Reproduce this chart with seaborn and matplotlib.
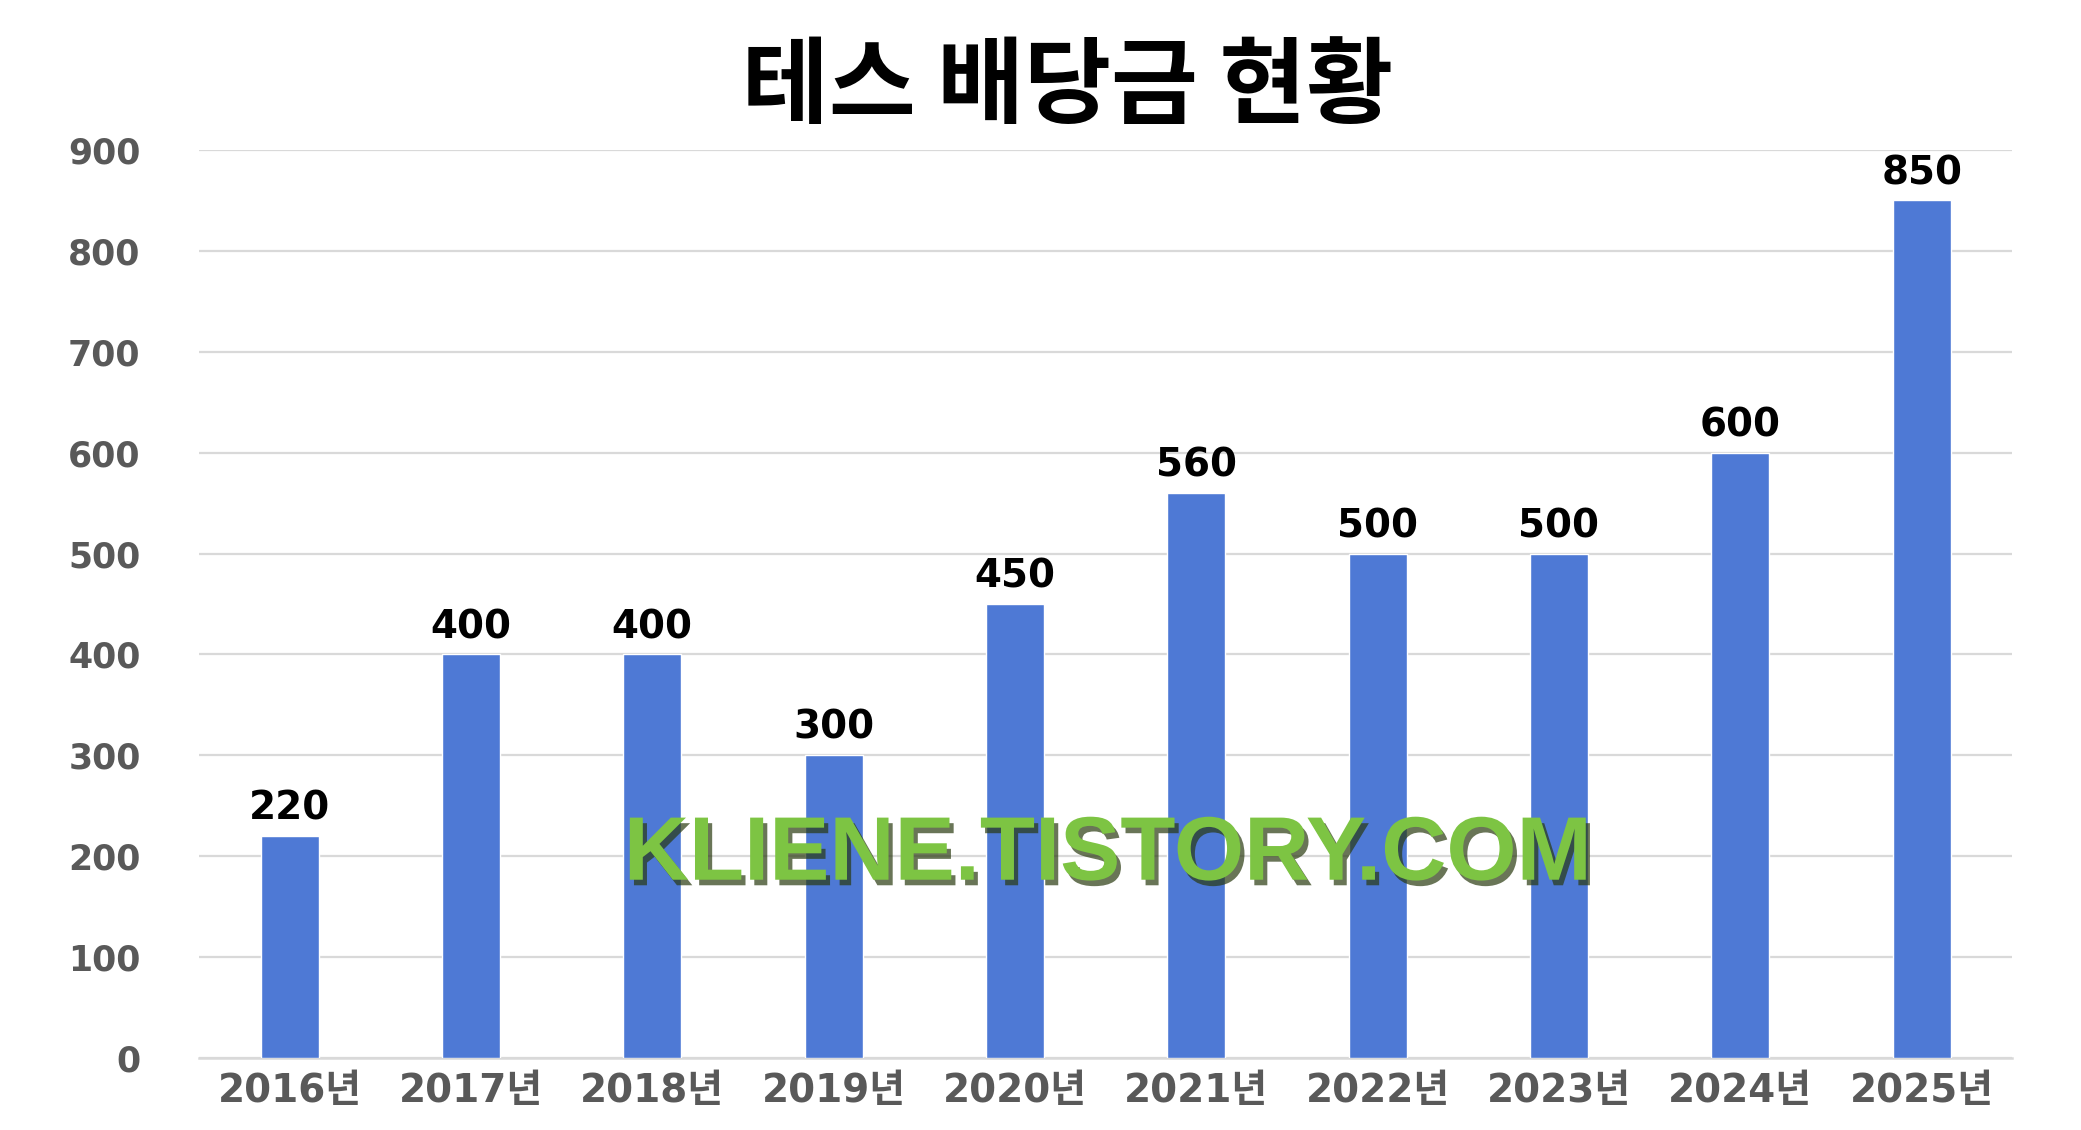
import matplotlib
matplotlib.use("Agg")
import matplotlib.pyplot as plt
import matplotlib.patheffects as pe
import seaborn as sns
import pandas as pd

years = ["2016년", "2017년", "2018년", "2019년", "2020년", "2021년", "2022년", "2023년", "2024년", "2025년"]
dividends = [220, 400, 400, 300, 450, 560, 500, 500, 600, 850]
yticks = [0, 100, 200, 300, 400, 500, 600, 700, 800, 900]
title = "테스 배당금 현황"
watermark = "KLIENE.TISTORY.COM"

sns.set_theme(style="white")
plt.rcParams['font.family'] = ['DejaVu Sans', 'Noto Sans CJK KR']

df = pd.DataFrame({"year": years, "dividend": dividends})

fig = plt.figure(figsize=(20.81, 11.30), dpi=100)
ax = fig.add_axes([0.0956, 0.0637, 0.8714, 0.8036])

sns.barplot(data=df, x="year", y="dividend", color="#4E79D5", saturation=1,
            width=0.32, ax=ax, zorder=3)

ax.set_ylim(0, 900)
ax.set_xlim(-0.5, len(years) - 0.5)
ax.set_yticks(yticks)
ax.set_yticklabels([str(v) for v in yticks])
ax.yaxis.grid(True, color="#D9D9D9", linewidth=1.6, zorder=0)
ax.set_axisbelow(True)
for s in ["left", "right", "top"]:
    ax.spines[s].set_visible(False)
ax.spines["bottom"].set_color("#D9D9D9")
ax.spines["bottom"].set_linewidth(1.8)
ax.set_xlabel("")
ax.set_ylabel("")
ax.tick_params(axis="y", length=0, pad=42, labelsize=25, labelcolor="#595959")
ax.tick_params(axis="x", length=0, pad=10, labelsize=28, labelcolor="#595959")
for lab in ax.get_yticklabels():
    lab.set_fontweight("bold")
    lab.set_fontfamily(["DejaVu Sans"])
for lab in ax.get_xticklabels():
    lab.set_fontweight("bold")
    lab.set_fontfamily(["DejaVu Sans", "Noto Sans CJK KR"])

for cont in ax.containers:
    ax.bar_label(cont, labels=[str(v) for v in dividends], padding=6,
                 fontsize=28, fontweight="bold", color="black",
                 fontfamily=["DejaVu Sans"])

fig.text(0.513, 0.922, title, ha="center", va="center", fontsize=68,
         fontweight="black", color="black", family=["Noto Sans CJK KR"])

wm = ax.text(0.5 * (len(years) - 1) + 0.01, 200, watermark, ha="center", va="center",
             fontsize=65, fontweight="bold", color="#7DC443",
             family=["Liberation Sans Narrow", "Liberation Sans", "DejaVu Sans"],
             zorder=5)
wm.set_path_effects([pe.withSimplePatchShadow(offset=(3, -4), shadow_rgbFace="#2a3a10", alpha=0.7)])

fig.savefig("out.png", dpi=100, facecolor="white")
